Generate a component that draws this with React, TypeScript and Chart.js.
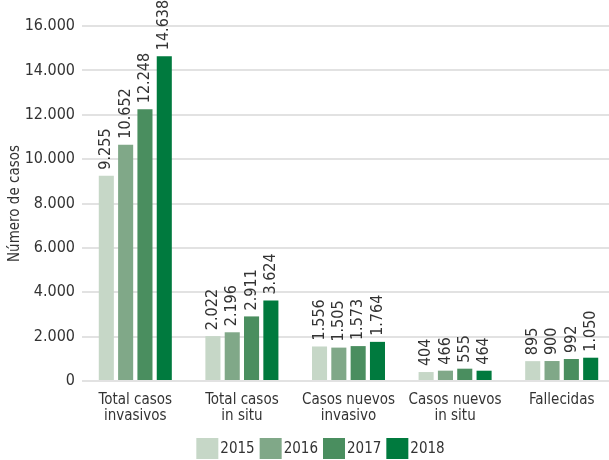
import React, { useEffect, useRef } from "react";
import { Chart, registerables } from "chart.js";

Chart.register(...registerables);

const categories: string[][] = [
  ["Total casos", "invasivos"],
  ["Total casos", "in situ"],
  ["Casos nuevos", "invasivo"],
  ["Casos nuevos", "in situ"],
  ["Fallecidas"],
];
const years = ["2015", "2016", "2017", "2018"];
const v2015 = [9255, 2022, 1556, 404, 895];
const v2016 = [10652, 2196, 1505, 466, 900];
const v2017 = [12248, 2911, 1573, 555, 992];
const v2018 = [14638, 3624, 1764, 464, 1050];
const colors = ["#c6d7c7", "#80a888", "#4a8e5f", "#007a3e"];
const yTicks = [0, 2000, 4000, 6000, 8000, 10000, 12000, 14000, 16000];

const FONT = "'DejaVu Sans Condensed', 'Liberation Sans Narrow', sans-serif";

const fmt = (n: number) => n.toString().replace(/\B(?=(\d{3})+(?!\d))/g, ".");

const labelPlugin = {
  id: "barLabels",
  afterDatasetsDraw(chart: any) {
    const ctx = chart.ctx;
    ctx.save();
    ctx.font = `16px ${FONT}`;
    ctx.fillStyle = "#333333";
    ctx.textAlign = "left";
    ctx.textBaseline = "middle";
    chart.data.datasets.forEach((ds: any, di: number) => {
      const meta = chart.getDatasetMeta(di);
      meta.data.forEach((bar: any, i: number) => {
        ctx.save();
        ctx.translate(bar.x, bar.y - 6);
        ctx.rotate(-Math.PI / 2);
        ctx.fillText(fmt(ds.data[i]), 0, 0);
        ctx.restore();
      });
    });
    ctx.restore();
  },
};

const legendPlugin = {
  id: "customLegend",
  afterDraw(chart: any) {
    const ctx = chart.ctx;
    ctx.save();
    ctx.font = `15px ${FONT}`;
    ctx.textBaseline = "middle";
    ctx.textAlign = "left";
    const boxW = 22;
    const boxH = 21;
    const gap = 2;
    const itemGap = 5;
    const items = chart.data.datasets.map((ds: any) => ({
      label: ds.label,
      color: ds.backgroundColor,
      w: ctx.measureText(ds.label).width,
    }));
    const total = items.reduce((s: number, it: any) => s + boxW + gap + it.w, 0) + itemGap * (items.length - 1);
    let x = 320.5 - total / 2;
    const y = 438;
    items.forEach((it: any) => {
      ctx.fillStyle = it.color;
      ctx.fillRect(x, y, boxW, boxH);
      ctx.fillStyle = "#333333";
      ctx.fillText(it.label, x + boxW + gap, y + boxH / 2 + 1);
      x += boxW + gap + it.w + itemGap;
    });
    ctx.restore();
  },
};

export default function App() {
  const ref = useRef<HTMLCanvasElement>(null);
  useEffect(() => {
    if (!ref.current) return;
    const series = [v2015, v2016, v2017, v2018];
    const chart = new Chart(ref.current, {
      type: "bar",
      data: {
        labels: categories,
        datasets: years.map((y, i) => ({
          label: y,
          data: series[i],
          backgroundColor: colors[i],
          categoryPercentage: 0.725,
          barPercentage: 0.78,
        })),
      },
      options: {
        responsive: false,
        animation: false,
        layout: { padding: { top: 26, right: 0, bottom: 0, left: 0 } },
        plugins: {
          legend: { display: false },
          tooltip: { enabled: false },
        },
        scales: {
          x: {
            grid: { display: false, drawTicks: false },
            border: { display: false },
            ticks: {
              color: "#333333",
              font: { family: FONT, size: 15, lineHeight: 1.05 },
              padding: 11,
              maxRotation: 0,
              autoSkip: false,
            },
            afterFit: (s: any) => {
              s.height = 79;
            },
          },
          y: {
            min: 0,
            max: 16000,
            afterBuildTicks: (s: any) => {
              s.ticks = yTicks.map((v) => ({ value: v }));
            },
            grid: { color: "#e2e2e2", lineWidth: 2, drawTicks: false },
            border: { display: false },
            ticks: {
              color: "#333333",
              font: { family: FONT, size: 16 },
              padding: 7,
              callback: (v: any) => fmt(Number(v)),
            },
            title: {
              display: true,
              text: "Número de casos",
              color: "#333333",
              font: { family: FONT, size: 15 },
              padding: { top: 6, bottom: 0 },
            },
            afterFit: (s: any) => {
              s.width = 82;
            },
          },
        },
      },
      plugins: [labelPlugin, legendPlugin],
    });
    return () => chart.destroy();
  }, []);
  return (
    <div style={{ position: "fixed", left: 0, top: 0, width: 609, height: 460, overflow: "hidden", background: "#fff" }}>
      <canvas ref={ref} width={615} height={460} style={{ display: "block" }} />
    </div>
  );
}
